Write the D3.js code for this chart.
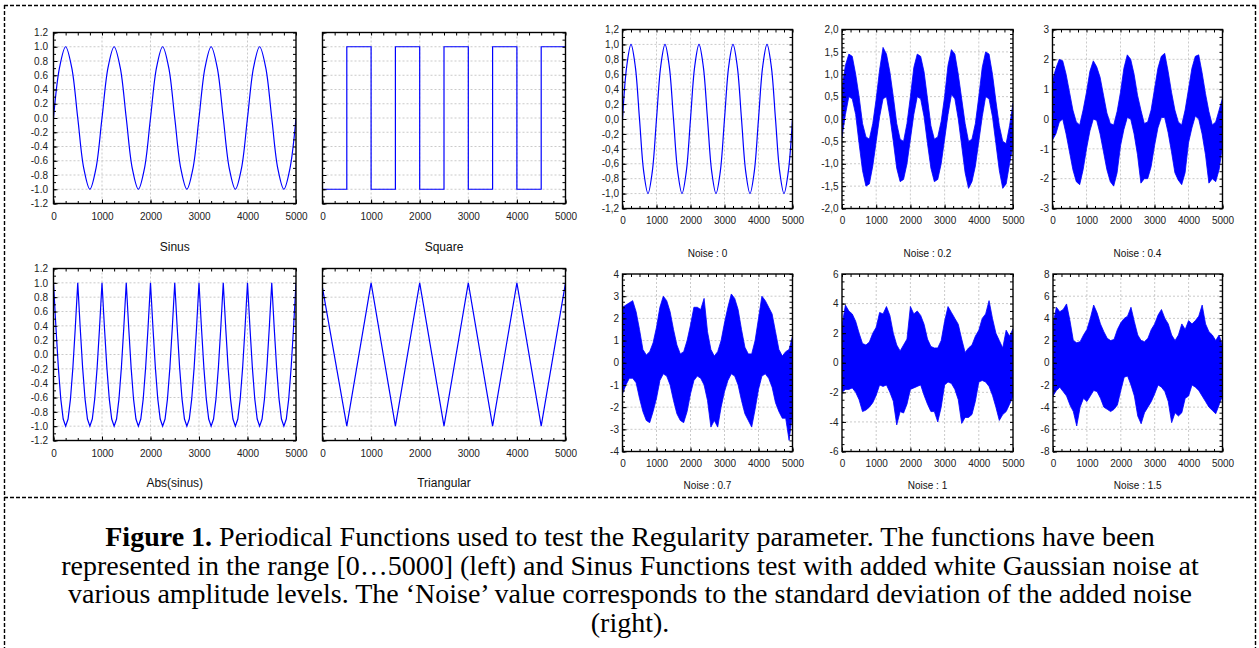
<!DOCTYPE html>
<html>
<head>
<meta charset="utf-8">
<script src="https://cdn.jsdelivr.net/npm/d3@7"></script>
<style>
  body { margin: 0; background: #fff; }
  svg { display: block; }
  .grid { stroke: #bcbcbc; stroke-width: 0.8; stroke-dasharray: 2,2; }
  .frame { fill: none; stroke: #000; stroke-width: 1.4; }
  .border { stroke: #000; stroke-width: 1.4; stroke-dasharray: 4,2; }
  .caption { font-family: "Liberation Serif", "Times New Roman", serif; font-size: 28px; fill: #000; }
  .title { font-family: "Liberation Sans", Arial, sans-serif; fill: #111; }
</style>
</head>
<body>
<script>
var width = 1259, height = 648;

// x axis, shared by every panel
const xTicks = [0, 1000, 2000, 3000, 4000, 5000];
const leftTicks = [-1.2, -1.0, -0.8, -0.6, -0.4, -0.2, 0.0, 0.2, 0.4, 0.6, 0.8, 1.0, 1.2];
const ticks02 = [-2.0, -1.5, -1.0, -0.5, 0.0, 0.5, 1.0, 1.5, 2.0];
const ticks04 = [-3, -2, -1, 0, 1, 2, 3];
const ticks07 = [-4, -3, -2, -1, 0, 1, 2, 3, 4];
const ticks1 = [-6, -4, -2, 0, 2, 4, 6];
const ticks15 = [-8, -6, -4, -2, 0, 2, 4, 6, 8];

// clean signals (sampled every 125 / 50 / 500 units)
const sinus = [0, 0.71, 1, 0.71, 0, -0.71, -1, -0.71,
  0, 0.71, 1, 0.71, 0, -0.71, -1, -0.71,
  0, 0.71, 1, 0.71, 0, -0.71, -1, -0.71,
  0, 0.71, 1, 0.71, 0, -0.71, -1, -0.71,
  0, 0.71, 1, 0.71, 0, -0.71, -1, -0.71,
  0];
const absSinus = [1, 0.38, -0.18, -0.62, -0.9, -1, -0.9, -0.62, -0.18, 0.38,
  1, 0.38, -0.18, -0.62, -0.9, -1, -0.9, -0.62, -0.18, 0.38,
  1, 0.38, -0.18, -0.62, -0.9, -1, -0.9, -0.62, -0.18, 0.38,
  1, 0.38, -0.18, -0.62, -0.9, -1, -0.9, -0.62, -0.18, 0.38,
  1, 0.38, -0.18, -0.62, -0.9, -1, -0.9, -0.62, -0.18, 0.38,
  1, 0.38, -0.18, -0.62, -0.9, -1, -0.9, -0.62, -0.18, 0.38,
  1, 0.38, -0.18, -0.62, -0.9, -1, -0.9, -0.62, -0.18, 0.38,
  1, 0.38, -0.18, -0.62, -0.9, -1, -0.9, -0.62, -0.18, 0.38,
  1, 0.38, -0.18, -0.62, -0.9, -1, -0.9, -0.62, -0.18, 0.38,
  1, 0.38, -0.18, -0.62, -0.9, -1, -0.9, -0.62, -0.18, 0.38,
  1];
const square = [-1, 1, -1, 1, -1, 1, -1, 1, -1, 1, 1];
const triangular = [0.93, -1, 1, -1, 1, -1, 1, -1, 1, -1, 1];

// noisy sinus: upper / lower edge of the band, every 100 units
const noise02Upper = [0.7, 1.2, 1.45, 1.4, 1.0, 0.5, -0.1, -0.4, -0.45, -0.1,
  0.45, 1.1, 1.6, 1.45, 1.05, 0.5, -0.1, -0.45, -0.5, -0.1,
  0.5, 1.15, 1.45, 1.4, 1.05, 0.45, -0.15, -0.45, -0.4, -0.05,
  0.5, 1.2, 1.55, 1.45, 1.0, 0.45, -0.1, -0.5, -0.45, -0.1,
  0.5, 1.15, 1.5, 1.45, 1.0, 0.4, -0.15, -0.5, -0.55, -0.15,
  0.35];
const noise02Lower = [-0.4, 0.1, 0.5, 0.45, 0.1, -0.55, -1.15, -1.5, -1.45, -1.05,
  -0.5, 0.05, 0.45, 0.5, 0.05, -0.5, -1.1, -1.4, -1.35, -1.0,
  -0.45, 0.1, 0.5, 0.45, 0.05, -0.55, -1.1, -1.4, -1.35, -1.0,
  -0.45, 0.1, 0.55, 0.45, 0.0, -0.6, -1.2, -1.55, -1.4, -1.05,
  -0.5, 0.05, 0.5, 0.45, 0.05, -0.55, -1.15, -1.55, -1.45, -1.0,
  -0.6];
const noise04Upper = [1.3, 1.7, 2.0, 1.95, 1.5, 0.9, 0.3, -0.1, -0.2, 0.3,
  0.9, 1.6, 1.95, 1.75, 1.4, 0.8, 0.2, -0.15, -0.2, 0.25,
  0.9, 1.7, 2.15, 2.0, 1.5, 0.8, 0.3, -0.15, -0.1, 0.3,
  1.0, 1.7, 2.1, 2.2, 1.6, 0.9, 0.3, -0.1, -0.2, 0.3,
  1.0, 1.7, 2.1, 2.15, 1.55, 0.85, 0.25, -0.2, -0.1, 0.3,
  0.7];
const noise04Lower = [-0.7, -0.5, -0.1, 0.0, -0.5, -1.1, -1.7, -2.1, -2.2, -1.7,
  -1.0, -0.4, 0.0, -0.05, -0.5, -1.1, -1.7, -2.1, -2.25, -1.8,
  -0.9, -0.35, 0.05, 0.0, -0.5, -1.2, -2.15, -2.0, -2.0, -1.6,
  -0.9, -0.3, 0.05, 0.05, -0.45, -1.1, -1.8, -2.05, -2.2, -1.8,
  -0.8, -0.3, 0.1, 0.0, -0.5, -1.2, -2.15, -2.0, -2.1, -1.7,
  -0.9];
const noise07Upper = [2.5, 2.6, 2.7, 2.8, 2.3, 1.5, 0.6, 0.35, 0.5, 0.9,
  1.6, 2.5, 3.0, 2.8, 2.3, 1.5, 0.8, 0.4, 0.5, 1.0,
  1.7, 2.5, 2.5, 2.4, 2.9, 1.4, 0.6, 0.3, 0.5, 1.0,
  1.8, 2.5, 3.1, 2.9, 2.4, 1.5, 0.7, 0.4, 0.4, 1.0,
  2.0, 3.0, 2.8, 2.5, 2.2, 1.4, 0.6, 0.3, 0.5, 0.6,
  1.2];
const noise07Lower = [-1.4, -1.0, -0.7, -0.7, -0.9, -1.6, -2.2, -2.6, -2.7, -2.2,
  -1.6, -0.8, -0.5, -0.6, -1.0, -1.7, -2.3, -2.6, -2.7, -2.2,
  -1.4, -0.8, -0.6, -0.7, -1.0, -1.7, -2.9, -2.6, -2.9, -2.0,
  -1.3, -0.8, -0.5, -0.6, -1.0, -1.7, -2.3, -2.6, -2.9, -2.1,
  -1.2, -0.6, -0.5, -0.7, -1.1, -1.8, -2.2, -2.5, -2.5, -3.5,
  -2.3];
const noise1Upper = [2.5, 3.9, 3.5, 3.3, 2.8, 2.0, 1.3, 1.2, 1.4, 2.0,
  2.4, 3.4, 3.3, 3.8, 3.2, 2.0, 1.2, 0.8, 1.2, 1.6,
  3.8, 3.3, 3.5, 3.2, 2.6, 1.6, 1.1, 1.0, 1.0, 1.5,
  2.8, 3.8, 3.4, 3.0, 2.6, 1.6, 0.7, 1.0, 1.2, 1.8,
  2.2, 3.0, 3.3, 4.2, 3.0, 2.0, 1.5, 1.0, 2.2, 1.8,
  2.3];
const noise1Lower = [-2.0, -1.8, -1.8, -1.7, -2.0, -2.5, -3.3, -3.2, -3.0, -2.7,
  -2.2, -1.5, -1.6, -1.5, -2.0, -2.6, -4.2, -3.3, -3.4, -2.8,
  -1.8, -1.7, -1.6, -1.5, -2.2, -2.8, -3.3, -3.3, -4.0, -3.0,
  -1.5, -1.3, -1.4, -1.8, -2.5, -4.1, -3.7, -3.7, -3.5, -2.6,
  -1.3, -1.2, -1.3, -1.6, -2.2, -3.0, -3.9, -3.5, -3.3, -2.8,
  -2.3];
const noise15Upper = [3.5, 5.0, 4.6, 4.8, 5.3, 3.8, 2.0, 1.8, 1.9, 2.5,
  3.0, 4.0, 5.2, 4.5, 3.5, 2.8, 2.2, 2.0, 2.1, 3.0,
  3.6, 4.0, 4.2, 5.0, 3.7, 2.5, 2.0, 1.9, 2.2, 3.0,
  3.5, 4.3, 4.8, 4.0, 3.5, 2.5, 2.0, 2.5, 3.5, 3.0,
  3.8, 3.5, 3.8, 4.2, 5.2, 3.5, 2.8, 2.5, 2.0, 2.5,
  1.5];
const noise15Lower = [-3.0, -2.5, -2.2, -2.6, -3.0, -3.8, -4.4, -5.7, -4.0, -3.2,
  -3.5, -3.0, -2.5, -2.6, -3.2, -4.0, -4.2, -4.4, -4.2, -3.8,
  -2.5, -1.3, -1.2, -2.0, -3.0, -4.8, -5.5, -4.5, -4.0, -3.5,
  -2.8, -2.0, -2.2, -2.6, -3.5, -5.4, -4.5, -4.8, -4.5, -3.2,
  -3.0, -2.0, -2.2, -2.5, -3.0, -3.5, -4.0, -4.3, -4.6, -3.8,
  -3.0];

const captionLines = [
  "Periodical Functions used to test the Regularity parameter. The functions have been",
  "represented in the range [0\u20265000] (left) and Sinus Functions test with added white Gaussian noise at",
  "various amplitude levels. The \u2018Noise\u2019 value corresponds to the standard deviation of the added noise",
  "(right)."
];

const dotFmt = d3.formatLocale({decimal: ".", thousands: "", grouping: [3], currency: ["", ""], minus: "-"}).format(".1f");
const commaFmt = d3.formatLocale({decimal: ",", thousands: "", grouping: [3], currency: ["", ""], minus: "-"}).format(".1f");
const intFmt = d3.formatLocale({decimal: ".", thousands: "", grouping: [3], currency: ["", ""], minus: "-"}).format("d");

const blue = "#0000ff";

const panels = [
  {title: "Sinus", box: [53.5, 32.5, 296, 203.5], dom: [-1.2, 1.2], ticks: leftTicks, minor: 0.1, fmt: dotFmt,
   line: sinus, step: 125, curve: d3.curveCatmullRom, titleY: 251, titleSize: 12, pad: 5.5, xpad: 9.5},
  {title: "Square", box: [322.5, 32.5, 565.5, 203.5], dom: [-1.2, 1.2], ticks: leftTicks, minor: 0.1, fmt: null,
   line: square, step: 500, curve: d3.curveStepAfter, titleY: 251, titleSize: 12, xpad: 9.5},
  {title: "Abs(sinus)", box: [53.5, 268.5, 296, 440.5], dom: [-1.2, 1.2], ticks: leftTicks, minor: 0.1, fmt: dotFmt,
   line: absSinus, step: 50, curve: d3.curveLinear, titleY: 487, titleSize: 12, pad: 5.5, xpad: 9.5},
  {title: "Triangular", box: [322.5, 268.5, 565.5, 440.5], dom: [-1.2, 1.2], ticks: leftTicks, minor: 0.1, fmt: null,
   line: triangular, step: 500, curve: d3.curveLinear, titleY: 487, titleSize: 12, xpad: 9.5},
  {title: "Noise : 0", box: [622.5, 29.5, 792.5, 208.5], dom: [-1.2, 1.2], ticks: leftTicks, minor: 0.1, fmt: commaFmt,
   line: sinus, step: 125, curve: d3.curveCatmullRom, titleY: 257, titleSize: 10, pad: 3.5, xpad: 8.5},
  {title: "Noise : 0.2", box: [842, 29.5, 1013, 208.5], dom: [-2, 2], ticks: ticks02, minor: 0.1, fmt: commaFmt,
   upper: noise02Upper, lower: noise02Lower, step: 100, titleY: 257, titleSize: 10, pad: 3.5, xpad: 8.5},
  {title: "Noise : 0.4", box: [1052.5, 29.5, 1222.5, 208.5], dom: [-3, 3], ticks: ticks04, minor: 0.25, fmt: intFmt,
   upper: noise04Upper, lower: noise04Lower, step: 100, titleY: 257, titleSize: 10, pad: 3.5, xpad: 8.5},
  {title: "Noise : 0.7", box: [622.5, 274, 792.5, 451.5], dom: [-4, 4], ticks: ticks07, minor: 0.25, fmt: intFmt,
   upper: noise07Upper, lower: noise07Lower, step: 100, titleY: 489, titleSize: 10, pad: 3.5, xpad: 8.5},
  {title: "Noise : 1", box: [842, 274, 1013, 451.5], dom: [-6, 6], ticks: ticks1, minor: 0.5, fmt: intFmt,
   upper: noise1Upper, lower: noise1Lower, step: 100, titleY: 489, titleSize: 10, pad: 3.5, xpad: 8.5},
  {title: "Noise : 1.5", box: [1053, 274, 1222.5, 451.5], dom: [-8, 8], ticks: ticks15, minor: 0.5, fmt: intFmt,
   upper: noise15Upper, lower: noise15Lower, step: 100, titleY: 489, titleSize: 10, pad: 3.5, xpad: 8.5}
];

let svg = d3.select("body").append("svg").attr("width", width).attr("height", height);

// dashed figure / caption borders
svg.append("line").attr("class", "border").attr("x1", 4).attr("x2", 1256).attr("y1", 5.5).attr("y2", 5.5);
svg.append("line").attr("class", "border").attr("x1", 4).attr("x2", 1256).attr("y1", 497.5).attr("y2", 497.5);
svg.append("line").attr("class", "border").attr("x1", 4.5).attr("x2", 4.5).attr("y1", 5).attr("y2", height);
svg.append("line").attr("class", "border").attr("x1", 1255.5).attr("x2", 1255.5).attr("y1", 5).attr("y2", height);

panels.forEach((p, i) => drawPanel(p, i));

function styleAxis(g) {
  g.select(".domain").remove();
  g.attr("font-family", "'Liberation Sans', Arial, sans-serif").attr("font-size", 10);
  g.selectAll(".tick line").attr("stroke", "#000").attr("stroke-width", 1);
  g.selectAll(".tick text").attr("fill", "#222");
}

function drawPanel(p, i) {
  const [x0, y0, x1, y1] = p.box;
  const x = d3.scaleLinear().domain([0, 5000]).range([x0, x1]);
  const y = d3.scaleLinear().domain(p.dom).range([y1, y0]);
  const g = svg.append("g").attr("class", "panel");

  g.append("clipPath").attr("id", "clip" + i)
    .append("rect").attr("x", x0).attr("y", y0).attr("width", x1 - x0).attr("height", y1 - y0);

  // dashed grid at major ticks
  g.append("g").selectAll("line").data(xTicks.slice(1, -1)).join("line")
    .attr("class", "grid").attr("x1", d => x(d)).attr("x2", d => x(d)).attr("y1", y0).attr("y2", y1);
  g.append("g").selectAll("line").data(p.ticks.slice(1, -1)).join("line")
    .attr("class", "grid").attr("x1", x0).attr("x2", x1).attr("y1", d => y(d)).attr("y2", d => y(d));

  const plot = g.append("g").attr("clip-path", "url(#clip" + i + ")");

  if (p.line) {
    const line = d3.line().x((d, k) => x(k * p.step)).y(d => y(d)).curve(p.curve);
    plot.append("path").datum(p.line)
      .attr("fill", "none").attr("stroke", blue).attr("stroke-width", 1.2)
      .attr("d", line);
  } else {
    const area = d3.area()
      .x((d, k) => x(k * p.step))
      .y0((d, k) => y(p.lower[k]))
      .y1(d => y(d));
    plot.append("path").datum(p.upper)
      .attr("fill", blue).attr("stroke", blue).attr("stroke-width", 0.8)
      .attr("d", area);
  }

  // minor + major ticks, pointing inwards on all four sides
  const minorX = d3.range(0, 5001, 250);
  const minorY = d3.range(p.dom[0], p.dom[1] + 1e-9, p.minor);

  g.append("g").attr("transform", `translate(0,${y1})`)
    .call(d3.axisBottom(x).tickValues(minorX).tickSize(-2.5).tickFormat("")).call(styleAxis);
  g.append("g").attr("transform", `translate(0,${y1})`)
    .call(d3.axisBottom(x).tickValues(xTicks).tickSizeInner(-4).tickSizeOuter(0).tickPadding(p.xpad).tickFormat(intFmt))
    .call(styleAxis);
  g.append("g").attr("transform", `translate(0,${y0})`)
    .call(d3.axisTop(x).tickValues(minorX).tickSize(-3).tickFormat("")).call(styleAxis);

  g.append("g").attr("transform", `translate(${x0},0)`)
    .call(d3.axisLeft(y).tickValues(minorY).tickSize(-2.5).tickFormat("")).call(styleAxis);
  g.append("g").attr("transform", `translate(${x0},0)`)
    .call(d3.axisLeft(y).tickValues(p.ticks).tickSizeInner(-4).tickSizeOuter(0).tickPadding(p.pad || 4)
      .tickFormat(p.fmt ? p.fmt : ""))
    .call(styleAxis);
  g.append("g").attr("transform", `translate(${x1},0)`)
    .call(d3.axisRight(y).tickValues(minorY).tickSize(-3).tickFormat("")).call(styleAxis);

  g.append("rect").attr("class", "frame")
    .attr("x", x0).attr("y", y0).attr("width", x1 - x0).attr("height", y1 - y0);

  g.append("text").attr("class", "title")
    .attr("x", (x0 + x1) / 2).attr("y", p.titleY)
    .attr("text-anchor", "middle").attr("font-size", p.titleSize)
    .text(p.title);
}

// caption
const cap = svg.append("g").attr("class", "caption");
const baselines = [546, 574.5, 603, 631.5];
captionLines.forEach((txt, k) => {
  const t = cap.append("text").attr("x", 630).attr("y", baselines[k]).attr("text-anchor", "middle");
  if (k === 0) t.append("tspan").attr("font-weight", "bold").text("Figure 1.");
  t.append("tspan").text((k === 0 ? " " : "") + txt);
});
</script>
</body>
</html>
